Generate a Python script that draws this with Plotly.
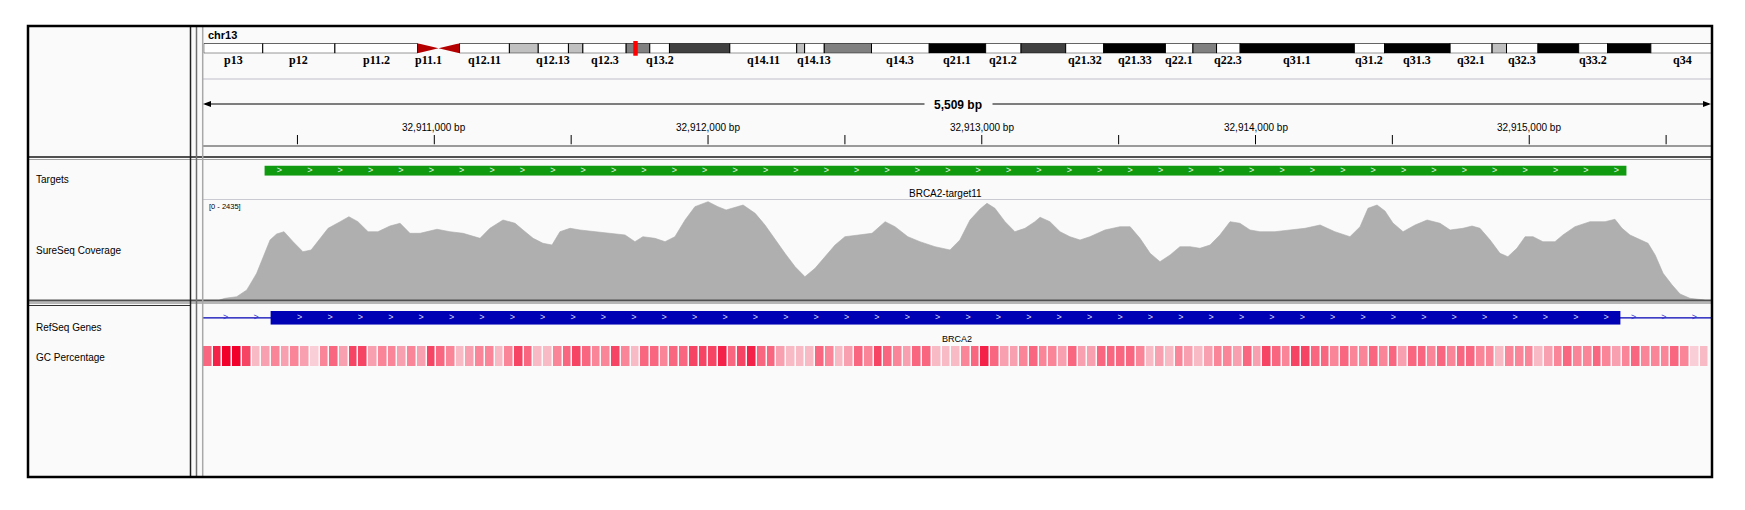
import numpy as np
import plotly.graph_objects as go

# page body keeps its default 8px margin, so the figure is drawn 8px in
OFF = 8
W, H = 1729, 494

# chr13 cytobands (Mb) as drawn in the ideogram
band_names = ["p13", "p12", "p11.2", "p11.1", "q11", "q12.11", "q12.12", "q12.13", "q12.2",
              "q12.3", "q13.1", "q13.2", "q13.3", "q14.11", "q14.12", "q14.13", "q14.2", "q14.3",
              "q21.1", "q21.2", "q21.31", "q21.32", "q21.33", "q22.1", "q22.2", "q22.3", "q31.1",
              "q31.2", "q31.3", "q32.1", "q32.2", "q32.3", "q33.1", "q33.2", "q33.3", "q34"]
band_starts = [0.0, 4.5, 10.0, 16.3, 17.9, 19.5, 23.3, 25.5, 27.8, 28.9, 32.2, 34.0, 35.5, 40.1,
               45.2, 45.8, 47.3, 50.9, 55.3, 59.6, 62.3, 65.7, 68.6, 73.3, 75.4, 77.2, 79.0, 87.7,
               90.0, 95.0, 98.2, 99.3, 101.7, 104.8, 107.0, 110.3]
band_ends = band_starts[1:] + [115.169878]
band_stains = ["gneg", "gneg", "gneg", "acen", "acen", "gneg", "gpos25", "gneg", "gpos25",
               "gneg", "gpos50", "gneg", "gpos75", "gneg", "gpos25", "gneg", "gpos50", "gneg",
               "gpos100", "gneg", "gpos75", "gneg", "gpos100", "gneg", "gpos50", "gneg", "gpos100",
               "gneg", "gpos100", "gneg", "gpos25", "gneg", "gpos100", "gneg", "gpos100", "gneg"]
shown_labels = ["p13", "p12", "p11.2", "p11.1", "q12.11", "q12.13", "q12.3", "q13.2", "q14.11",
                "q14.13", "q14.3", "q21.1", "q21.2", "q21.32", "q21.33", "q22.1", "q22.3", "q31.1",
                "q31.2", "q31.3", "q32.1", "q32.3", "q33.2", "q34"]
stain_colors = {"gneg": "#ffffff", "gpos25": "#c0c0c0", "gpos50": "#808080",
                "gpos75": "#404040", "gpos100": "#000000"}

# current view
view_start = 32910155
view_end = 32915664

ruler_ticks = [32910500, 32911000, 32911500, 32912000, 32912500, 32913000,
               32913500, 32914000, 32914500, 32915000, 32915500]
ruler_labels = ["", "32,911,000 bp", "", "32,912,000 bp", "", "32,913,000 bp",
                "", "32,914,000 bp", "", "32,915,000 bp", ""]

# Targets track
target_name = "BRCA2-target11"
target_start = 32910380
target_end = 32915355

# RefSeq gene (exon 11 in view, introns on both sides)
gene_name = "BRCA2"
exon_start = 32910402
exon_end = 32915333

# SureSeq coverage
cov_max = 2435
cov_pos = [32910215, 32910235, 32910278, 32910315, 32910351, 32910375, 32910400, 32910424,
           32910451, 32910484, 32910520, 32910550, 32910582, 32910612, 32910656, 32910688,
           32910721, 32910758, 32910794, 32910838, 32910875, 32910911, 32910948, 32911010,
           32911057, 32911105, 32911167, 32911203, 32911251, 32911295, 32911324, 32911361,
           32911397, 32911430, 32911459, 32911496, 32911532, 32911587, 32911642, 32911697,
           32911733, 32911762, 32911806, 32911843, 32911879, 32911916, 32911952, 32912000,
           32912036, 32912066, 32912128, 32912172, 32912208, 32912245, 32912281, 32912318,
           32912354, 32912391, 32912427, 32912464, 32912500, 32912555, 32912599, 32912647,
           32912683, 32912730, 32912774, 32912829, 32912884, 32912920, 32912957, 32912994,
           32913019, 32913048, 32913085, 32913121, 32913158, 32913194, 32913213, 32913249,
           32913286, 32913322, 32913359, 32913395, 32913450, 32913505, 32913542, 32913578,
           32913615, 32913651, 32913688, 32913724, 32913761, 32913797, 32913834, 32913870,
           32913907, 32913943, 32913980, 32914016, 32914071, 32914126, 32914181, 32914236,
           32914290, 32914345, 32914382, 32914411, 32914444, 32914473, 32914502, 32914539,
           32914583, 32914627, 32914674, 32914711, 32914758, 32914791, 32914820, 32914857,
           32914893, 32914922, 32914955, 32914985, 32915014, 32915050, 32915094, 32915123,
           32915167, 32915222, 32915277, 32915313, 32915339, 32915368, 32915405, 32915434,
           32915460, 32915489, 32915522, 32915551, 32915587, 32915613, 32915640]
cov_depth = [0, 41, 80, 244, 650, 1054, 1461, 1607,
             1663, 1420, 1176, 1218, 1502, 1746, 1907, 2028,
             1907, 1663, 1663, 1802, 1868, 1624, 1624, 1722,
             1663, 1624, 1502, 1746, 1948, 1868, 1705, 1502,
             1381, 1339, 1663, 1746, 1705, 1663, 1624, 1583,
             1420, 1541, 1502, 1420, 1541, 1948, 2272, 2394,
             2272, 2192, 2313, 2111, 1826, 1461, 1137, 811,
             567, 772, 1054, 1339, 1541, 1583, 1624, 1907,
             1785, 1541, 1420, 1298, 1218, 1461, 1948, 2216,
             2355, 2233, 1907, 1663, 1746, 1907, 2014, 1907,
             1663, 1541, 1461, 1541, 1705, 1785, 1785, 1502,
             1137, 933, 1096, 1298, 1298, 1259, 1339, 1583,
             1907, 1868, 1705, 1663, 1663, 1705, 1746, 1826,
             1663, 1541, 1785, 2233, 2313, 2167, 1875, 1663,
             1826, 1948, 1868, 1705, 1746, 1802, 1746, 1461,
             1137, 1054, 1259, 1541, 1541, 1420, 1420, 1583,
             1785, 1907, 1907, 1965, 1746, 1583, 1478, 1381,
             1096, 650, 365, 146, 41, 17, 0]

# GC percentage shading per ~35 bp bin (0 = pale, 9 = deep red)
gc_bin = 35.5
gc_shade = [6, 8, 9, 9, 7, 3, 4, 5, 4, 5,
            4, 2, 5, 6, 4, 7, 7, 4, 5, 5,
            4, 5, 4, 7, 6, 5, 3, 4, 5, 5,
            3, 5, 7, 6, 3, 3, 5, 6, 7, 6,
            5, 5, 7, 5, 3, 6, 6, 5, 6, 6,
            7, 7, 7, 8, 6, 7, 8, 6, 6, 4,
            3, 3, 3, 6, 5, 3, 4, 6, 5, 7,
            6, 5, 4, 6, 6, 3, 3, 3,
            5, 6, 8, 6, 4, 4, 5, 6, 5, 5,
            4, 6, 4, 4, 6, 6, 6, 6, 5, 3,
            4, 3, 5, 4, 3, 4, 5, 5, 4, 6,
            4, 7, 6, 5, 7, 7, 6, 6, 5, 6,
            5, 5, 6, 5, 6, 4, 6, 6, 5, 6,
            5, 6, 6, 5, 5, 3, 5, 5, 5, 3,
            4, 5, 6, 5, 5, 6, 5, 4, 5, 6,
            5, 5, 5, 6, 5, 2, 3]

track_names = ["Targets", "SureSeq Coverage", "RefSeq Genes", "GC Percentage"]
track_name_y = [180, 251, 327, 357]

FONT = "Liberation Sans, Arial, sans-serif"


# positions below are screen pixels of the page; convert to paper fractions
def fx(px):
    return (px - OFF) / W


def fy(py):
    return 1 - (py - OFF) / H


def ydom(top, bottom):
    return [fy(bottom), fy(top)]


DATA_L, DATA_R = 203, 1711
xdom = [fx(DATA_L), fx(DATA_R)]

fig = go.Figure()

# ---- ideogram
norm = [i for i, s in enumerate(band_stains) if s != "acen"]
fig.add_trace(go.Bar(
    orientation="h", xaxis="x", yaxis="y",
    y=[0.5] * len(norm), width=1,
    base=[band_starts[i] for i in norm],
    x=[band_ends[i] - band_starts[i] for i in norm],
    marker=dict(color=[stain_colors[band_stains[i]] for i in norm],
                line=dict(color="black", width=1)),
    hoverinfo="skip", showlegend=False))
for i, s in enumerate(band_stains):
    if s == "acen":
        tip = band_ends[i] if band_names[i].startswith("p") else band_starts[i]
        wide = band_starts[i] if band_names[i].startswith("p") else band_ends[i]
        fig.add_trace(go.Scatter(
            x=[wide, wide, tip, wide], y=[0, 1, 0.5, 0], xaxis="x", yaxis="y",
            mode="lines", fill="toself", fillcolor="#b40000", line=dict(width=0),
            hoverinfo="skip", showlegend=False))

annotations = []
for name in shown_labels:
    i = band_names.index(name)
    annotations.append(dict(
        x=(band_starts[i] + band_ends[i]) / 2, xref="x", y=fy(60), yref="paper",
        text="<b>%s</b>" % name, showarrow=False, xanchor="center", yanchor="middle",
        font=dict(family="Liberation Serif, Times New Roman, serif", size=12, color="black")))

# ---- ruler ticks
tx, ty = [], []
for t in ruler_ticks:
    tx += [t, t, None]
    ty += [0, 1, None]
fig.add_trace(go.Scatter(x=tx, y=ty, xaxis="x2", yaxis="y2", mode="lines",
                         line=dict(color="black", width=1), hoverinfo="skip", showlegend=False))
for t, lab in zip(ruler_ticks, ruler_labels):
    if lab:
        annotations.append(dict(x=t, xref="x2", y=fy(127), yref="paper", text=lab,
                                showarrow=False, xanchor="center", yanchor="middle",
                                font=dict(family=FONT, size=10, color="black")))

# ---- targets
fig.add_trace(go.Bar(orientation="h", xaxis="x3", yaxis="y3", y=[0.5], width=1,
                     base=[target_start], x=[target_end - target_start],
                     marker=dict(color="#109a10", line=dict(width=0)),
                     hoverinfo="skip", showlegend=False))
chev_t = np.arange(target_start + 54, target_end - 20, 111)
fig.add_trace(go.Scatter(x=chev_t, y=[0.5] * len(chev_t), xaxis="x3", yaxis="y3",
                         mode="text", text=[">"] * len(chev_t),
                         textfont=dict(family=FONT, size=9, color="#e8f4e8"),
                         hoverinfo="skip", showlegend=False))
annotations.append(dict(x=(target_start + target_end) / 2, xref="x3", y=fy(193), yref="paper",
                        text=target_name, showarrow=False, xanchor="center", yanchor="middle",
                        font=dict(family=FONT, size=10, color="black")))

# ---- coverage
fig.add_trace(go.Scatter(x=cov_pos, y=cov_depth, xaxis="x4", yaxis="y4", mode="lines",
                         fill="tozeroy", fillcolor="#afafaf",
                         line=dict(color="#a9a9a9", width=0.6),
                         hoverinfo="skip", showlegend=False))
annotations.append(dict(x=fx(207), xref="paper", y=fy(206), yref="paper",
                        text="[0 - %d]" % cov_max, showarrow=False,
                        xanchor="left", yanchor="middle",
                        font=dict(family=FONT, size=7.5, color="black")))

# ---- RefSeq gene
fig.add_trace(go.Scatter(x=[view_start, view_end], y=[0.5, 0.5], xaxis="x5", yaxis="y5",
                         mode="lines", line=dict(color="#0000b4", width=1.3),
                         hoverinfo="skip", showlegend=False))
fig.add_trace(go.Bar(orientation="h", xaxis="x5", yaxis="y5", y=[0.5], width=1,
                     base=[exon_start], x=[exon_end - exon_start],
                     marker=dict(color="#0000b4", line=dict(width=0)),
                     hoverinfo="skip", showlegend=False))
chev_e = np.arange(exon_start + 106, exon_end - 30, 111)
fig.add_trace(go.Scatter(x=chev_e, y=[0.5] * len(chev_e), xaxis="x5", yaxis="y5",
                         mode="text", text=[">"] * len(chev_e),
                         textfont=dict(family=FONT, size=9, color="#d8d8f0"),
                         hoverinfo="skip", showlegend=False))
chev_i = np.concatenate([np.arange(view_start + 83, exon_start - 20, 111),
                         np.arange(exon_end + 48, view_end, 111)])
fig.add_trace(go.Scatter(x=chev_i, y=[0.5] * len(chev_i), xaxis="x5", yaxis="y5",
                         mode="text", text=[">"] * len(chev_i),
                         textfont=dict(family=FONT, size=9, color="#3030d0"),
                         hoverinfo="skip", showlegend=False))
annotations.append(dict(x=(view_start + view_end) / 2, xref="x5", y=fy(339), yref="paper",
                        text=gene_name, showarrow=False, xanchor="center", yanchor="middle",
                        font=dict(family=FONT, size=9, color="black")))

# ---- GC percentage
fig.add_trace(go.Heatmap(z=[gc_shade], x0=view_start + gc_bin / 2, dx=gc_bin, y=[0.5],
                         xaxis="x6", yaxis="y6", zmin=0, zmax=9, xgap=1.5,
                         colorscale=[[0, "#fbeef1"], [0.3, "#f8c3cd"],
                                     [0.6, "#fa7a90"], [1, "#f2002c"]],
                         showscale=False, hoverinfo="skip"))

# ---- texts in the panels
annotations.append(dict(x=fx(206), xref="paper", y=fy(35), yref="paper", text="<b>chr13</b>",
                        showarrow=False, xanchor="left", yanchor="middle",
                        font=dict(family=FONT, size=11, color="black")))
span_text = "{:,} bp".format(view_end - view_start)
span_mid = (DATA_L + DATA_R) / 2 + 0.5
annotations.append(dict(x=fx(span_mid), xref="paper", y=fy(105), yref="paper",
                        text="<b>%s</b>" % span_text, showarrow=False,
                        xanchor="center", yanchor="middle",
                        font=dict(family=FONT, size=12, color="black")))
for name, yy in zip(track_names, track_name_y):
    annotations.append(dict(x=fx(34), xref="paper", y=fy(yy), yref="paper", text=name,
                            showarrow=False, xanchor="left", yanchor="middle",
                            font=dict(family=FONT, size=10, color="black")))

# ---- frame and separators
shapes = []


def hline(y, x0, x1, color, w):
    shapes.append(dict(type="line", xref="paper", yref="paper", x0=fx(x0), x1=fx(x1),
                       y0=fy(y), y1=fy(y), line=dict(color=color, width=w)))


def vline(x, y0, y1, color, w):
    shapes.append(dict(type="line", xref="paper", yref="paper", x0=fx(x), x1=fx(x),
                       y0=fy(y0), y1=fy(y1), line=dict(color=color, width=w)))


shapes.append(dict(type="rect", xref="paper", yref="paper", x0=fx(28), x1=fx(1712),
                   y0=fy(477), y1=fy(26), fillcolor="#fafafa", line=dict(width=0),
                   layer="below"))
hline(79, DATA_L, DATA_R, "#d2d2da", 1.5)
hline(146, DATA_L, DATA_R, "#7a7a7a", 1.5)
hline(199.5, DATA_L, DATA_R, "#cacad2", 1)
hline(157, 28, 1712, "#505050", 2)
hline(159.5, 28, 1712, "#a0a0a0", 1)
hline(300.5, 28, 1712, "#505050", 2)
hline(303, 28, 1712, "#a0a0a0", 1.5)
hline(305.5, 28, 191, "#303030", 1)
vline(190.5, 26, 477, "#202020", 1.5)
vline(196.5, 26, 477, "#707070", 1.5)
vline(202.7, 26, 477, "#a8a8a8", 1.5)

# ruler arrow line with a gap for the span text
gap_l, gap_r = span_mid - 33, span_mid + 35
hline(104, DATA_L + 2, gap_l, "black", 1)
hline(104, gap_r, DATA_R - 2, "black", 1)
shapes.append(dict(type="path", xref="paper", yref="paper", fillcolor="black",
                   line=dict(width=0),
                   path="M %f %f L %f %f L %f %f Z" % (fx(DATA_L), fy(104), fx(DATA_L + 8),
                                                       fy(101), fx(DATA_L + 8), fy(107))))
shapes.append(dict(type="path", xref="paper", yref="paper", fillcolor="black",
                   line=dict(width=0),
                   path="M %f %f L %f %f L %f %f Z" % (fx(DATA_R), fy(104), fx(DATA_R - 8),
                                                       fy(101), fx(DATA_R - 8), fy(107))))

# current view marker on the ideogram
view_mb = (view_start + view_end) / 2 / 1e6
shapes.append(dict(type="rect", xref="x", yref="paper", x0=view_mb - 0.17, x1=view_mb + 0.17,
                   y0=fy(55.7), y1=fy(41), fillcolor="#ff0000", line=dict(width=0)))

shapes.append(dict(type="rect", xref="paper", yref="paper", x0=fx(28), x1=fx(1712),
                   y0=fy(477), y1=fy(26), line=dict(color="black", width=2.5)))

# ---- axes
hidden = dict(visible=False, fixedrange=True)
ideo_mb_end = (DATA_R - 203.7) / 13.12
layout_axes = dict(
    xaxis=dict(domain=[fx(203.7), fx(DATA_R)], range=[0, ideo_mb_end], anchor="y", **hidden),
    yaxis=dict(domain=ydom(43.3, 53.3), range=[0, 1], anchor="x", **hidden),
)
track_dom = {2: (135, 144.5), 3: (165.5, 175.7), 4: (200, 300), 5: (311, 324.7), 6: (346, 366)}
track_rng = {2: [0, 1], 3: [0, 1], 4: [0, cov_max], 5: [0, 1], 6: [0, 1]}
for k, (top, bot) in track_dom.items():
    layout_axes["xaxis%d" % k] = dict(domain=xdom, range=[view_start, view_end],
                                      anchor="y%d" % k, **hidden)
    layout_axes["yaxis%d" % k] = dict(domain=ydom(top, bot), range=track_rng[k],
                                      anchor="x%d" % k, **hidden)

fig.update_layout(
    width=W, height=H, margin=dict(l=0, r=0, t=0, b=0),
    paper_bgcolor="white", plot_bgcolor="rgba(0,0,0,0)",
    barmode="overlay", showlegend=False,
    shapes=shapes, annotations=annotations,
    **layout_axes)

fig.write_html("out.html")
